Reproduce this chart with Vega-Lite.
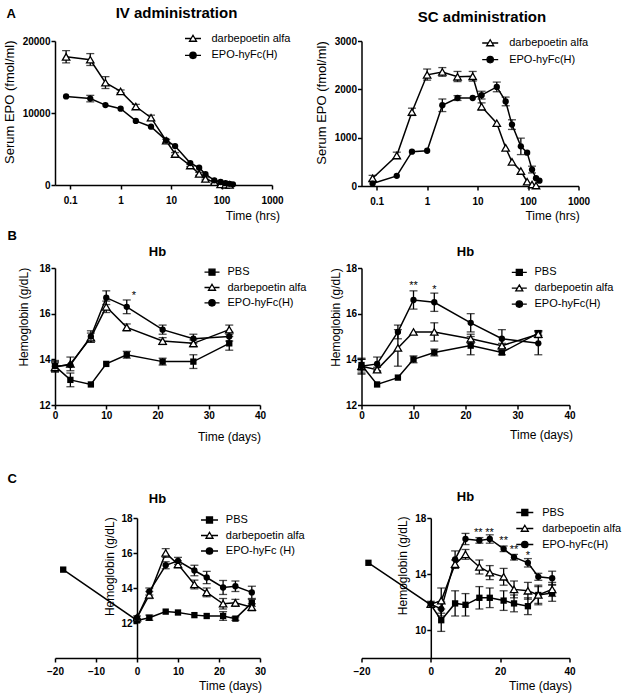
{
"$schema":"https://vega.github.io/schema/vega-lite/v6.json",
"padding":{"left":2,"top":6,"right":5,"bottom":5},
"config":{"view":{"stroke":null},"font":"Liberation Sans",
"axis":{"grid":false,"domainColor":"black","domainWidth":1.5,"tickColor":"black","tickWidth":1.5,"tickSize":4,"labelColor":"black","labelFontWeight":"bold","labelFontSize":10,"labelPadding":1,"labelFlush":false,"labelOverlap":false,"titleColor":"black","titleFontWeight":"normal","titleFontSize":12,"titleBaseline":"middle"},
"axisX":{"titleFontWeight":"normal"},
"legend":{"orient":"none","padding":0,"symbolSize":100,"symbolStrokeColor":"black","symbolStrokeWidth":1.3,"symbolOpacity":1,"labelFontSize":11,"labelColor":"black","labelOffset":11,"rowPadding":5},
"title":{"fontWeight":"bold","color":"black","frame":"group"}},
"columns":2,"bounds":"flush","align":"each","spacing":{"row":0,"column":89.5},
"resolve":{"scale":{"shape":"independent","fill":"independent","stroke":"independent"},"legend":{"shape":"independent","fill":"independent","stroke":"independent"}},
"datasets":{
"al":[{"s":"darbepoetin alfa","t":0.083,"v":17800,"lo":16950,"hi":18650},{"s":"darbepoetin alfa","t":0.25,"v":17400,"lo":16600,"hi":18250},{"s":"darbepoetin alfa","t":0.5,"v":14200,"lo":13400,"hi":15050},{"s":"darbepoetin alfa","t":1,"v":13000,"lo":12800,"hi":13200},{"s":"darbepoetin alfa","t":2,"v":10900,"lo":10600,"hi":11200},{"s":"darbepoetin alfa","t":4,"v":9350,"lo":8950,"hi":9700},{"s":"darbepoetin alfa","t":8,"v":6150,"lo":5950,"hi":6350},{"s":"darbepoetin alfa","t":12,"v":4300,"lo":4100,"hi":4500},{"s":"darbepoetin alfa","t":24,"v":2700,"lo":2550,"hi":2850},{"s":"darbepoetin alfa","t":36,"v":1550,"lo":1350,"hi":1750},{"s":"darbepoetin alfa","t":48,"v":850,"lo":700,"hi":1000},{"s":"darbepoetin alfa","t":72,"v":400,"lo":250,"hi":550},{"s":"darbepoetin alfa","t":96,"v":80},{"s":"darbepoetin alfa","t":120,"v":30},{"s":"darbepoetin alfa","t":144,"v":15},
{"s":"EPO-hyFc(H)","t":0.083,"v":12300},{"s":"EPO-hyFc(H)","t":0.25,"v":12000,"lo":11550,"hi":12450},{"s":"EPO-hyFc(H)","t":0.5,"v":11100},{"s":"EPO-hyFc(H)","t":1,"v":10600},{"s":"EPO-hyFc(H)","t":2,"v":8900},{"s":"EPO-hyFc(H)","t":4,"v":8100},{"s":"EPO-hyFc(H)","t":8,"v":6200},{"s":"EPO-hyFc(H)","t":12,"v":5400},{"s":"EPO-hyFc(H)","t":24,"v":3050},{"s":"EPO-hyFc(H)","t":36,"v":2400},{"s":"EPO-hyFc(H)","t":48,"v":1500},{"s":"EPO-hyFc(H)","t":72,"v":650},{"s":"EPO-hyFc(H)","t":96,"v":420},{"s":"EPO-hyFc(H)","t":120,"v":260},{"s":"EPO-hyFc(H)","t":144,"v":160},{"s":"EPO-hyFc(H)","t":168,"v":90}],
"ar":[{"s":"darbepoetin alfa","t":0.083,"v":160,"lo":100,"hi":220},{"s":"darbepoetin alfa","t":0.25,"v":630,"lo":570,"hi":700},{"s":"darbepoetin alfa","t":0.5,"v":1530,"lo":1460,"hi":1610},{"s":"darbepoetin alfa","t":1,"v":2300,"lo":2190,"hi":2420},{"s":"darbepoetin alfa","t":2,"v":2360,"lo":2270,"hi":2450},{"s":"darbepoetin alfa","t":4,"v":2260,"lo":2160,"hi":2370},{"s":"darbepoetin alfa","t":8,"v":2270,"lo":2170,"hi":2370},{"s":"darbepoetin alfa","t":12,"v":1640,"lo":1570,"hi":1720},{"s":"darbepoetin alfa","t":24,"v":1300},{"s":"darbepoetin alfa","t":36,"v":790},{"s":"darbepoetin alfa","t":48,"v":500},{"s":"darbepoetin alfa","t":72,"v":310},{"s":"darbepoetin alfa","t":96,"v":90},{"s":"darbepoetin alfa","t":120,"v":30},{"s":"darbepoetin alfa","t":144,"v":10},
{"s":"EPO-hyFc(H)","t":0.083,"v":50},{"s":"EPO-hyFc(H)","t":0.25,"v":210},{"s":"EPO-hyFc(H)","t":0.5,"v":710},{"s":"EPO-hyFc(H)","t":1,"v":730},{"s":"EPO-hyFc(H)","t":2,"v":1670,"lo":1540,"hi":1800},{"s":"EPO-hyFc(H)","t":4,"v":1820,"lo":1770,"hi":1870},{"s":"EPO-hyFc(H)","t":8,"v":1820},{"s":"EPO-hyFc(H)","t":12,"v":1880,"lo":1800,"hi":1960},{"s":"EPO-hyFc(H)","t":24,"v":2050,"lo":1950,"hi":2150},{"s":"EPO-hyFc(H)","t":36,"v":1750,"lo":1660,"hi":1840},{"s":"EPO-hyFc(H)","t":48,"v":1270,"lo":1170,"hi":1370},{"s":"EPO-hyFc(H)","t":72,"v":820,"lo":650,"hi":990},{"s":"EPO-hyFc(H)","t":96,"v":690},{"s":"EPO-hyFc(H)","t":120,"v":340,"lo":270,"hi":410},{"s":"EPO-hyFc(H)","t":144,"v":160},{"s":"EPO-hyFc(H)","t":168,"v":110}],
"bl":[{"s":"PBS","t":0,"v":13.7,"lo":13.45,"hi":13.95},{"s":"PBS","t":3,"v":13.1,"lo":12.8,"hi":13.4},{"s":"PBS","t":7,"v":12.9},{"s":"PBS","t":10,"v":13.8},{"s":"PBS","t":14,"v":14.2,"lo":14.05,"hi":14.35},{"s":"PBS","t":21,"v":13.9,"lo":13.75,"hi":14.05},{"s":"PBS","t":27,"v":13.9,"lo":13.6,"hi":14.2},{"s":"PBS","t":34,"v":14.7,"lo":14.4,"hi":15.0},
{"s":"darbepoetin alfa","t":0,"v":13.65,"lo":13.45,"hi":13.85},{"s":"darbepoetin alfa","t":3,"v":13.8,"lo":13.5,"hi":14.1},{"s":"darbepoetin alfa","t":7,"v":14.95,"lo":14.75,"hi":15.15},{"s":"darbepoetin alfa","t":10,"v":16.3,"lo":16.05,"hi":16.55},{"s":"darbepoetin alfa","t":14,"v":15.4,"lo":15.25,"hi":15.55},{"s":"darbepoetin alfa","t":21,"v":14.8,"lo":14.65,"hi":14.95},{"s":"darbepoetin alfa","t":27,"v":14.7,"lo":14.55,"hi":14.85},{"s":"darbepoetin alfa","t":34,"v":15.3,"lo":15.1,"hi":15.5},
{"s":"EPO-hyFc(H)","t":0,"v":13.7,"lo":13.5,"hi":13.9},{"s":"EPO-hyFc(H)","t":3,"v":13.75},{"s":"EPO-hyFc(H)","t":7,"v":15.0,"lo":14.75,"hi":15.25},{"s":"EPO-hyFc(H)","t":10,"v":16.7,"lo":16.4,"hi":17.0},{"s":"EPO-hyFc(H)","t":14,"v":16.3,"lo":16.0,"hi":16.6},{"s":"EPO-hyFc(H)","t":21,"v":15.3,"lo":15.1,"hi":15.5},{"s":"EPO-hyFc(H)","t":27,"v":14.9,"lo":14.7,"hi":15.1},{"s":"EPO-hyFc(H)","t":34,"v":15.0,"lo":14.8,"hi":15.2}],
"bl_sig":[{"t":15.4,"v":16.63,"txt":"*"}],
"br":[{"s":"PBS","t":0,"v":13.75,"lo":13.5,"hi":14.0},{"s":"PBS","t":3,"v":12.9},{"s":"PBS","t":7,"v":13.2},{"s":"PBS","t":10,"v":14.0,"lo":13.85,"hi":14.15},{"s":"PBS","t":14,"v":14.3,"lo":14.15,"hi":14.45},{"s":"PBS","t":21,"v":14.6,"lo":14.2,"hi":15.0},{"s":"PBS","t":27,"v":14.3,"lo":14.2,"hi":14.4},{"s":"PBS","t":34,"v":15.15,"lo":15.05,"hi":15.25},
{"s":"darbepoetin alfa","t":0,"v":13.7,"lo":13.35,"hi":14.05},{"s":"darbepoetin alfa","t":3,"v":13.55,"lo":13.45,"hi":13.65},{"s":"darbepoetin alfa","t":7,"v":14.5,"lo":13.7,"hi":15.3},{"s":"darbepoetin alfa","t":10,"v":15.2},{"s":"darbepoetin alfa","t":14,"v":15.2,"lo":14.8,"hi":15.6},{"s":"darbepoetin alfa","t":21,"v":14.9,"lo":14.7,"hi":15.1},{"s":"darbepoetin alfa","t":27,"v":14.6,"lo":14.5,"hi":14.7},{"s":"darbepoetin alfa","t":34,"v":15.1,"lo":14.95,"hi":15.25},
{"s":"EPO-hyFc(H)","t":0,"v":13.7,"lo":13.4,"hi":14.0},{"s":"EPO-hyFc(H)","t":3,"v":13.8,"lo":13.5,"hi":14.1},{"s":"EPO-hyFc(H)","t":7,"v":15.2,"lo":14.9,"hi":15.5},{"s":"EPO-hyFc(H)","t":10,"v":16.6,"lo":16.2,"hi":17.0},{"s":"EPO-hyFc(H)","t":14,"v":16.5,"lo":16.1,"hi":16.9},{"s":"EPO-hyFc(H)","t":21,"v":15.6,"lo":15.2,"hi":16.0},{"s":"EPO-hyFc(H)","t":27,"v":14.9,"lo":14.5,"hi":15.3},{"s":"EPO-hyFc(H)","t":34,"v":14.7,"lo":14.2,"hi":15.2}],
"br_sig":[{"t":10,"v":17.08,"txt":"**"},{"t":14,"v":16.9,"txt":"*"}],
"cl":[{"s":"PBS","t":-18,"v":15.05},{"s":"PBS","t":0,"v":12.15,"lo":12.05,"hi":12.25},{"s":"PBS","t":3,"v":12.3,"lo":12.15,"hi":12.45},{"s":"PBS","t":7,"v":12.65},{"s":"PBS","t":10,"v":12.6},{"s":"PBS","t":14,"v":12.45},{"s":"PBS","t":17,"v":12.4},{"s":"PBS","t":21,"v":12.4,"lo":12.15,"hi":12.65},{"s":"PBS","t":24,"v":12.25,"lo":12.15,"hi":12.35},{"s":"PBS","t":28,"v":13.15,"lo":12.95,"hi":13.35},
{"s":"darbepoetin alfa","t":0,"v":12.3,"lo":12.2,"hi":12.4},{"s":"darbepoetin alfa","t":3,"v":13.6,"lo":13.4,"hi":13.8},{"s":"darbepoetin alfa","t":7,"v":16.0,"lo":15.75,"hi":16.25},{"s":"darbepoetin alfa","t":10,"v":15.35,"lo":15.15,"hi":15.55},{"s":"darbepoetin alfa","t":14,"v":14.2,"lo":13.95,"hi":14.45},{"s":"darbepoetin alfa","t":17,"v":13.75,"lo":13.5,"hi":14.0},{"s":"darbepoetin alfa","t":21,"v":13.1,"lo":12.8,"hi":13.4},{"s":"darbepoetin alfa","t":24,"v":13.15,"lo":12.95,"hi":13.35},{"s":"darbepoetin alfa","t":28,"v":12.9,"lo":12.7,"hi":13.1},
{"s":"EPO-hyFc (H)","t":0,"v":12.3},{"s":"EPO-hyFc (H)","t":3,"v":13.8,"lo":13.6,"hi":14.0},{"s":"EPO-hyFc (H)","t":7,"v":15.3,"lo":15.1,"hi":15.5},{"s":"EPO-hyFc (H)","t":10,"v":15.55,"lo":15.35,"hi":15.75},{"s":"EPO-hyFc (H)","t":14,"v":15.0,"lo":14.7,"hi":15.3},{"s":"EPO-hyFc (H)","t":17,"v":14.6,"lo":14.25,"hi":14.95},{"s":"EPO-hyFc (H)","t":21,"v":14.03,"lo":13.63,"hi":14.43},{"s":"EPO-hyFc (H)","t":24,"v":14.1,"lo":13.8,"hi":14.4},{"s":"EPO-hyFc (H)","t":28,"v":13.75,"lo":13.4,"hi":14.1}],
"cr":[{"s":"PBS","t":-18,"v":14.8},{"s":"PBS","t":0,"v":11.8,"lo":11.65,"hi":11.95},{"s":"PBS","t":3,"v":10.7,"lo":9.9,"hi":11.5},{"s":"PBS","t":7,"v":11.9,"lo":11.0,"hi":12.8},{"s":"PBS","t":10,"v":11.8,"lo":11.0,"hi":12.6},{"s":"PBS","t":14,"v":12.3,"lo":11.5,"hi":13.1},{"s":"PBS","t":17,"v":12.3,"lo":11.6,"hi":13.0},{"s":"PBS","t":21,"v":12.1,"lo":11.4,"hi":12.8},{"s":"PBS","t":24,"v":11.9,"lo":11.3,"hi":12.5},{"s":"PBS","t":28,"v":11.7,"lo":11.1,"hi":12.3},{"s":"PBS","t":31,"v":12.5,"lo":11.8,"hi":13.2},{"s":"PBS","t":35,"v":12.65,"lo":12.05,"hi":13.25},
{"s":"darbepoetin alfa","t":0,"v":11.85,"lo":11.65,"hi":12.05},{"s":"darbepoetin alfa","t":3,"v":12.1,"lo":11.2,"hi":13.0},{"s":"darbepoetin alfa","t":7,"v":14.7,"lo":14.4,"hi":15.0},{"s":"darbepoetin alfa","t":10,"v":15.4,"lo":15.05,"hi":15.75},{"s":"darbepoetin alfa","t":14,"v":14.5,"lo":14.0,"hi":15.0},{"s":"darbepoetin alfa","t":17,"v":14.1,"lo":13.6,"hi":14.6},{"s":"darbepoetin alfa","t":21,"v":13.8,"lo":13.2,"hi":14.4},{"s":"darbepoetin alfa","t":24,"v":12.9,"lo":12.3,"hi":13.5},{"s":"darbepoetin alfa","t":28,"v":12.8,"lo":12.2,"hi":13.4},{"s":"darbepoetin alfa","t":31,"v":12.5,"lo":11.9,"hi":13.1},{"s":"darbepoetin alfa","t":35,"v":12.9,"lo":12.4,"hi":13.4},
{"s":"EPO-hyFc(H)","t":0,"v":11.85},{"s":"EPO-hyFc(H)","t":3,"v":11.5,"lo":11.0,"hi":12.0},{"s":"EPO-hyFc(H)","t":7,"v":15.05,"lo":14.45,"hi":15.65},{"s":"EPO-hyFc(H)","t":10,"v":16.5,"lo":16.1,"hi":16.9},{"s":"EPO-hyFc(H)","t":14,"v":16.4,"lo":16.2,"hi":16.6},{"s":"EPO-hyFc(H)","t":17,"v":16.5,"lo":16.2,"hi":16.8},{"s":"EPO-hyFc(H)","t":21,"v":15.8,"lo":15.6,"hi":16.0},{"s":"EPO-hyFc(H)","t":24,"v":15.2,"lo":15.0,"hi":15.4},{"s":"EPO-hyFc(H)","t":28,"v":14.8,"lo":14.5,"hi":15.1},{"s":"EPO-hyFc(H)","t":31,"v":13.8,"lo":13.55,"hi":14.05},{"s":"EPO-hyFc(H)","t":35,"v":13.7,"lo":13.2,"hi":14.2}],
"cr_sig":[{"t":13.7,"v":16.7,"txt":"**"},{"t":16.9,"v":16.7,"txt":"**"},{"t":21,"v":16.17,"txt":"**"},{"t":24,"v":15.5,"txt":"**"},{"t":28,"v":15.09,"txt":"*"}]
},
"concat":[
{"width":1,"height":10,"data":{"values":[]},"mark":{"type":"point","opacity":0},"title":{"text":"A","orient":"bottom","anchor":"start","offset":-33.5,"dx":-48.5,"fontSize":13,"baseline":"top"}},
{"width":1,"height":10,"data":{"values":[]},"mark":{"type":"point","opacity":0}},
{"width":217,"height":144,"title":{"text":"IV administration","fontSize":15,"offset":11.5,"dx":13},"data":{"name":"al"},
"layer":[
{"transform":[{"filter":"isValid(datum.lo)"}],"mark":{"type":"errorbar","ticks":true,"size":8,"thickness":1.3,"color":"black"},"encoding":{"x":{"field":"t","type":"quantitative","title":"Time (hrs)"},"y":{"field":"lo","type":"quantitative","title":"Serum EPO (fmol/ml)"},"y2":{"field":"hi"}}},
{"mark":{"type":"line","color":"black","strokeWidth":1.5},"encoding":{"x":{"field":"t","type":"quantitative","title":"Time (hrs)","scale":{"type":"log","domain":[0.05,1000],"nice":false},"axis":{"values":[0.1,1,10,100,1000],"format":"~g","titleX":224.5,"titleY":30.7,"titleAlign":"right","titleFontWeight":"normal","labelPadding":6}},"y":{"field":"v","type":"quantitative","title":"Serum EPO (fmol/ml)","scale":{"domain":[0,20000],"nice":false},"axis":{"values":[0,5000,10000,15000,20000],"format":"d","titleFontSize":13,"titleX":-46,"titleY":60.7}},"detail":{"field":"s"}}},
{"transform":[{"filter":"datum.s=='darbepoetin alfa'"}],"mark":{"type":"point","shape":"triangle-up","filled":true,"fill":"white","stroke":"black","strokeWidth":1.3,"size":55,"opacity":1},"encoding":{"x":{"field":"t","type":"quantitative","title":"Time (hrs)"},"y":{"field":"v","type":"quantitative","title":"Serum EPO (fmol/ml)"}}},
{"transform":[{"filter":"datum.s!='darbepoetin alfa' && datum.s!='PBS'"}],"mark":{"type":"point","shape":"circle","filled":true,"color":"black","size":40,"opacity":1},"encoding":{"x":{"field":"t","type":"quantitative","title":"Time (hrs)"},"y":{"field":"v","type":"quantitative","title":"Serum EPO (fmol/ml)"}}},
{"transform":[{"filter":"false"}],"mark":{"type":"point","opacity":1},"encoding":{"shape":{"field":"s","type":"nominal","title":null,"scale":{"domain":["darbepoetin alfa","EPO-hyFc(H)"],"range":["M-1.6,0L-0.38,0M0.38,0L1.6,0M0,-0.65L0.7,0.55L-0.7,0.55Z","M-1.6,0L1.6,0M-0.64,0A0.64,0.64,0,1,1,0.64,0A0.64,0.64,0,1,1,-0.64,0Z"]},"legend":{"legendX":132,"legendY":-8.5,"rowPadding":4.8,"labelOffset":12.5}},"fill":{"field":"s","type":"nominal","title":null,"scale":{"domain":["darbepoetin alfa","EPO-hyFc(H)"],"range":["white","black"]},"legend":{"legendX":132,"legendY":-8.5,"rowPadding":4.8,"labelOffset":12.5}},"stroke":{"field":"s","type":"nominal","title":null,"scale":{"domain":["darbepoetin alfa","EPO-hyFc(H)"],"range":["black","black"]},"legend":{"legendX":132,"legendY":-8.5,"rowPadding":4.8,"labelOffset":12.5}}}}
]},
{"width":217,"height":145,"title":{"text":"SC administration","fontSize":15,"offset":11.5,"dx":12},"data":{"name":"ar"},
"layer":[
{"transform":[{"filter":"isValid(datum.lo)"}],"mark":{"type":"errorbar","ticks":true,"size":8,"thickness":1.3,"color":"black"},"encoding":{"x":{"field":"t","type":"quantitative","title":"Time (hrs)"},"y":{"field":"lo","type":"quantitative","title":"Serum EPO (fmol/ml)"},"y2":{"field":"hi"}}},
{"mark":{"type":"line","color":"black","strokeWidth":1.5},"encoding":{"x":{"field":"t","type":"quantitative","title":"Time (hrs)","scale":{"type":"log","domain":[0.05,1000],"nice":false},"axis":{"values":[0.1,1,10,100,1000],"format":"~g","titleX":217.7,"titleY":29,"titleAlign":"right","titleFontWeight":"normal","labelPadding":6}},"y":{"field":"v","type":"quantitative","title":"Serum EPO (fmol/ml)","scale":{"domain":[0,3000],"nice":false},"axis":{"values":[0,1000,2000,3000],"format":"d","titleFontSize":13,"titleX":-40.3,"titleY":61.5}},"detail":{"field":"s"}}},
{"transform":[{"filter":"datum.s=='darbepoetin alfa'"}],"mark":{"type":"point","shape":"triangle-up","filled":true,"fill":"white","stroke":"black","strokeWidth":1.3,"size":55,"opacity":1},"encoding":{"x":{"field":"t","type":"quantitative","title":"Time (hrs)"},"y":{"field":"v","type":"quantitative","title":"Serum EPO (fmol/ml)"}}},
{"transform":[{"filter":"datum.s!='darbepoetin alfa' && datum.s!='PBS'"}],"mark":{"type":"point","shape":"circle","filled":true,"color":"black","size":40,"opacity":1},"encoding":{"x":{"field":"t","type":"quantitative","title":"Time (hrs)"},"y":{"field":"v","type":"quantitative","title":"Serum EPO (fmol/ml)"}}},
{"transform":[{"filter":"false"}],"mark":{"type":"point","opacity":1},"encoding":{"shape":{"field":"s","type":"nominal","title":null,"scale":{"domain":["darbepoetin alfa","EPO-hyFc(H)"],"range":["M-1.6,0L-0.38,0M0.38,0L1.6,0M0,-0.65L0.7,0.55L-0.7,0.55Z","M-1.6,0L1.6,0M-0.64,0A0.64,0.64,0,1,1,0.64,0A0.64,0.64,0,1,1,-0.64,0Z"]},"legend":{"legendX":122.7,"legendY":-4,"rowPadding":4.6,"labelOffset":13}},"fill":{"field":"s","type":"nominal","title":null,"scale":{"domain":["darbepoetin alfa","EPO-hyFc(H)"],"range":["white","black"]},"legend":{"legendX":122.7,"legendY":-4,"rowPadding":4.6,"labelOffset":13}},"stroke":{"field":"s","type":"nominal","title":null,"scale":{"domain":["darbepoetin alfa","EPO-hyFc(H)"],"range":["black","black"]},"legend":{"legendX":122.7,"legendY":-4,"rowPadding":4.6,"labelOffset":13}}}}
]},
{"width":1,"height":81.2,"data":{"values":[]},"mark":{"type":"point","opacity":0},"title":{"text":"B","orient":"bottom","anchor":"start","offset":-37,"dx":-47.5,"fontSize":13,"baseline":"top"}},
{"width":1,"height":81.2,"data":{"values":[]},"mark":{"type":"point","opacity":0}},
{"width":205,"height":137,"title":{"text":"Hb","fontSize":13,"offset":4},"data":{"name":"bl"},
"layer":[
{"transform":[{"filter":"isValid(datum.lo)"}],"mark":{"type":"errorbar","ticks":true,"size":8,"thickness":1.3,"color":"black"},"encoding":{"x":{"field":"t","type":"quantitative","title":"Time (days)"},"y":{"field":"lo","type":"quantitative","title":"Hemoglobin (g/dL)"},"y2":{"field":"hi"}}},
{"mark":{"type":"line","color":"black","strokeWidth":1.5},"encoding":{"x":{"field":"t","type":"quantitative","title":"Time (days)","scale":{"domain":[0,40],"nice":false},"axis":{"values":[0,10,20,30,40],"titleX":205.5,"titleY":31,"titleAlign":"right","titleFontWeight":"normal","labelPadding":1.5}},"y":{"field":"v","type":"quantitative","title":"Hemoglobin (g/dL)","scale":{"domain":[12,18],"nice":false,"zero":false},"axis":{"values":[12,14,16,18],"titleX":-31.3,"titleY":48.7}},"detail":{"field":"s"}}},
{"transform":[{"filter":"datum.s=='PBS'"}],"mark":{"type":"point","shape":"square","filled":true,"color":"black","size":40,"opacity":1},"encoding":{"x":{"field":"t","type":"quantitative","title":"Time (days)"},"y":{"field":"v","type":"quantitative","title":"Hemoglobin (g/dL)"}}},
{"transform":[{"filter":"datum.s=='darbepoetin alfa'"}],"mark":{"type":"point","shape":"triangle-up","filled":true,"fill":"white","stroke":"black","strokeWidth":1.3,"size":55,"opacity":1},"encoding":{"x":{"field":"t","type":"quantitative","title":"Time (days)"},"y":{"field":"v","type":"quantitative","title":"Hemoglobin (g/dL)"}}},
{"transform":[{"filter":"datum.s!='darbepoetin alfa' && datum.s!='PBS'"}],"mark":{"type":"point","shape":"circle","filled":true,"color":"black","size":40,"opacity":1},"encoding":{"x":{"field":"t","type":"quantitative","title":"Time (days)"},"y":{"field":"v","type":"quantitative","title":"Hemoglobin (g/dL)"}}},
{"transform":[{"filter":"false"}],"mark":{"type":"point","opacity":1},"encoding":{"shape":{"field":"s","type":"nominal","title":null,"scale":{"domain":["PBS","darbepoetin alfa","EPO-hyFc(H)"],"range":["M-1.5,0L1.5,0M-0.6,-0.6L0.6,-0.6L0.6,0.6L-0.6,0.6Z","M-1.5,0L-0.38,0M0.38,0L1.5,0M0,-0.65L0.7,0.55L-0.7,0.55Z","M-1.5,0L1.5,0M-0.64,0A0.64,0.64,0,1,1,0.64,0A0.64,0.64,0,1,1,-0.64,0Z"]},"legend":{"legendX":151,"legendY":-1.8,"rowPadding":3.3,"labelOffset":9.5}},"fill":{"field":"s","type":"nominal","title":null,"scale":{"domain":["PBS","darbepoetin alfa","EPO-hyFc(H)"],"range":["black","white","black"]},"legend":{"legendX":151,"legendY":-1.8,"rowPadding":3.3,"labelOffset":9.5}},"stroke":{"field":"s","type":"nominal","title":null,"scale":{"domain":["PBS","darbepoetin alfa","EPO-hyFc(H)"],"range":["black","black","black"]},"legend":{"legendX":151,"legendY":-1.8,"rowPadding":3.3,"labelOffset":9.5}}}},
{"data":{"name":"bl_sig"},"mark":{"type":"text","fontSize":11,"fill":"black","baseline":"alphabetic"},"encoding":{"x":{"field":"t","type":"quantitative"},"y":{"field":"v","type":"quantitative"},"text":{"field":"txt"}}}
]},
{"width":208,"height":137,"title":{"text":"Hb","fontSize":13,"offset":4},"data":{"name":"br"},
"layer":[
{"transform":[{"filter":"isValid(datum.lo)"}],"mark":{"type":"errorbar","ticks":true,"size":8,"thickness":1.3,"color":"black"},"encoding":{"x":{"field":"t","type":"quantitative","title":"Time (days)"},"y":{"field":"lo","type":"quantitative","title":"Hemoglobin (g/dL)"},"y2":{"field":"hi"}}},
{"mark":{"type":"line","color":"black","strokeWidth":1.5},"encoding":{"x":{"field":"t","type":"quantitative","title":"Time (days)","scale":{"domain":[0,40],"nice":false},"axis":{"values":[0,10,20,30,40],"titleX":211,"titleY":29.5,"titleAlign":"right","titleFontWeight":"normal","labelPadding":1.5}},"y":{"field":"v","type":"quantitative","title":"Hemoglobin (g/dL)","scale":{"domain":[12,18],"nice":false,"zero":false},"axis":{"values":[12,14,16,18],"titleX":-25.7,"titleY":49}},"detail":{"field":"s"}}},
{"transform":[{"filter":"datum.s=='PBS'"}],"mark":{"type":"point","shape":"square","filled":true,"color":"black","size":40,"opacity":1},"encoding":{"x":{"field":"t","type":"quantitative","title":"Time (days)"},"y":{"field":"v","type":"quantitative","title":"Hemoglobin (g/dL)"}}},
{"transform":[{"filter":"datum.s=='darbepoetin alfa'"}],"mark":{"type":"point","shape":"triangle-up","filled":true,"fill":"white","stroke":"black","strokeWidth":1.3,"size":55,"opacity":1},"encoding":{"x":{"field":"t","type":"quantitative","title":"Time (days)"},"y":{"field":"v","type":"quantitative","title":"Hemoglobin (g/dL)"}}},
{"transform":[{"filter":"datum.s!='darbepoetin alfa' && datum.s!='PBS'"}],"mark":{"type":"point","shape":"circle","filled":true,"color":"black","size":40,"opacity":1},"encoding":{"x":{"field":"t","type":"quantitative","title":"Time (days)"},"y":{"field":"v","type":"quantitative","title":"Hemoglobin (g/dL)"}}},
{"transform":[{"filter":"false"}],"mark":{"type":"point","opacity":1},"encoding":{"shape":{"field":"s","type":"nominal","title":null,"scale":{"domain":["PBS","darbepoetin alfa","EPO-hyFc(H)"],"range":["M-1.5,0L1.5,0M-0.6,-0.6L0.6,-0.6L0.6,0.6L-0.6,0.6Z","M-1.5,0L-0.38,0M0.38,0L1.5,0M0,-0.65L0.7,0.55L-0.7,0.55Z","M-1.5,0L1.5,0M-0.64,0A0.64,0.64,0,1,1,0.64,0A0.64,0.64,0,1,1,-0.64,0Z"]},"legend":{"legendX":151.8,"legendY":-1.7,"rowPadding":3.9,"labelOffset":9.2}},"fill":{"field":"s","type":"nominal","title":null,"scale":{"domain":["PBS","darbepoetin alfa","EPO-hyFc(H)"],"range":["black","white","black"]},"legend":{"legendX":151.8,"legendY":-1.7,"rowPadding":3.9,"labelOffset":9.2}},"stroke":{"field":"s","type":"nominal","title":null,"scale":{"domain":["PBS","darbepoetin alfa","EPO-hyFc(H)"],"range":["black","black","black"]},"legend":{"legendX":151.8,"legendY":-1.7,"rowPadding":3.9,"labelOffset":9.2}}}},
{"data":{"name":"br_sig"},"mark":{"type":"text","fontSize":11,"fill":"black","baseline":"alphabetic"},"encoding":{"x":{"field":"t","type":"quantitative"},"y":{"field":"v","type":"quantitative"},"text":{"field":"txt"}}}
]},
{"width":1,"height":113,"data":{"values":[]},"mark":{"type":"point","opacity":0},"title":{"text":"C","orient":"bottom","anchor":"start","offset":-45.5,"dx":-47.5,"fontSize":13,"baseline":"top"}},
{"width":1,"height":113,"data":{"values":[]},"mark":{"type":"point","opacity":0}},
{"width":205,"height":140,"title":{"text":"Hb","fontSize":13,"offset":7.5},"data":{"name":"cl"},
"layer":[
{"transform":[{"filter":"isValid(datum.lo)"}],"mark":{"type":"errorbar","ticks":true,"size":8,"thickness":1.3,"color":"black"},"encoding":{"x":{"field":"t","type":"quantitative","title":"Time (days)"},"y":{"field":"lo","type":"quantitative","title":"Hemoglobin (g/dL)"},"y2":{"field":"hi"}}},
{"mark":{"type":"line","color":"black","strokeWidth":1.5},"encoding":{"x":{"field":"t","type":"quantitative","title":"Time (days)","scale":{"domain":[-20,30],"nice":false},"axis":{"values":[-20,-10,0,10,20,30],"titleX":206.5,"titleY":27,"titleAlign":"right","titleFontWeight":"normal","labelPadding":4}},"y":{"field":"v","type":"quantitative","title":"Hemoglobin (g/dL)","scale":{"domain":[10,18],"nice":false,"zero":false},"axis":{"values":[12,14,16,18],"offset":-82,"titleX":-28,"titleY":48.2}},"detail":{"field":"s"}}},
{"transform":[{"filter":"datum.s=='PBS'"}],"mark":{"type":"point","shape":"square","filled":true,"color":"black","size":40,"opacity":1},"encoding":{"x":{"field":"t","type":"quantitative","title":"Time (days)"},"y":{"field":"v","type":"quantitative","title":"Hemoglobin (g/dL)"}}},
{"transform":[{"filter":"datum.s=='darbepoetin alfa'"}],"mark":{"type":"point","shape":"triangle-up","filled":true,"fill":"white","stroke":"black","strokeWidth":1.3,"size":55,"opacity":1},"encoding":{"x":{"field":"t","type":"quantitative","title":"Time (days)"},"y":{"field":"v","type":"quantitative","title":"Hemoglobin (g/dL)"}}},
{"transform":[{"filter":"datum.s!='darbepoetin alfa' && datum.s!='PBS'"}],"mark":{"type":"point","shape":"circle","filled":true,"color":"black","size":40,"opacity":1},"encoding":{"x":{"field":"t","type":"quantitative","title":"Time (days)"},"y":{"field":"v","type":"quantitative","title":"Hemoglobin (g/dL)"}}},
{"transform":[{"filter":"false"}],"mark":{"type":"point","opacity":1},"encoding":{"shape":{"field":"s","type":"nominal","title":null,"scale":{"domain":["PBS","darbepoetin alfa","EPO-hyFc (H)"],"range":["M-1.7,0L1.7,0M-0.6,-0.6L0.6,-0.6L0.6,0.6L-0.6,0.6Z","M-1.7,0L-0.38,0M0.38,0L1.7,0M0,-0.65L0.7,0.55L-0.7,0.55Z","M-1.7,0L1.7,0M-0.64,0A0.64,0.64,0,1,1,0.64,0A0.64,0.64,0,1,1,-0.64,0Z"]},"legend":{"legendX":148.5,"legendY":-4,"rowPadding":3.5,"labelOffset":10.3}},"fill":{"field":"s","type":"nominal","title":null,"scale":{"domain":["PBS","darbepoetin alfa","EPO-hyFc (H)"],"range":["black","white","black"]},"legend":{"legendX":148.5,"legendY":-4,"rowPadding":3.5,"labelOffset":10.3}},"stroke":{"field":"s","type":"nominal","title":null,"scale":{"domain":["PBS","darbepoetin alfa","EPO-hyFc (H)"],"range":["black","black","black"]},"legend":{"legendX":148.5,"legendY":-4,"rowPadding":3.5,"labelOffset":10.3}}}}
]},
{"width":208,"height":140,"title":{"text":"Hb","fontSize":13,"offset":3},"data":{"name":"cr"},
"layer":[
{"transform":[{"filter":"isValid(datum.lo)"}],"mark":{"type":"errorbar","ticks":true,"size":8,"thickness":1.3,"color":"black"},"encoding":{"x":{"field":"t","type":"quantitative","title":"Time (days)"},"y":{"field":"lo","type":"quantitative","title":"Hemoglobin (g/dL)"},"y2":{"field":"hi"}}},
{"mark":{"type":"line","color":"black","strokeWidth":1.5},"encoding":{"x":{"field":"t","type":"quantitative","title":"Time (days)","scale":{"domain":[-20,40],"nice":false},"axis":{"values":[-20,0,20,40],"titleX":210,"titleY":27,"titleAlign":"right","titleFontWeight":"normal","labelPadding":4.5}},"y":{"field":"v","type":"quantitative","title":"Hemoglobin (g/dL)","scale":{"domain":[8,18],"nice":false,"zero":false},"axis":{"values":[10,12,14,16,18],"offset":-69.3,"titleX":-28.8,"titleY":47.3}},"detail":{"field":"s"}}},
{"transform":[{"filter":"datum.s=='PBS'"}],"mark":{"type":"point","shape":"square","filled":true,"color":"black","size":40,"opacity":1},"encoding":{"x":{"field":"t","type":"quantitative","title":"Time (days)"},"y":{"field":"v","type":"quantitative","title":"Hemoglobin (g/dL)"}}},
{"transform":[{"filter":"datum.s=='darbepoetin alfa'"}],"mark":{"type":"point","shape":"triangle-up","filled":true,"fill":"white","stroke":"black","strokeWidth":1.3,"size":55,"opacity":1},"encoding":{"x":{"field":"t","type":"quantitative","title":"Time (days)"},"y":{"field":"v","type":"quantitative","title":"Hemoglobin (g/dL)"}}},
{"transform":[{"filter":"datum.s!='darbepoetin alfa' && datum.s!='PBS'"}],"mark":{"type":"point","shape":"circle","filled":true,"color":"black","size":40,"opacity":1},"encoding":{"x":{"field":"t","type":"quantitative","title":"Time (days)"},"y":{"field":"v","type":"quantitative","title":"Hemoglobin (g/dL)"}}},
{"transform":[{"filter":"false"}],"mark":{"type":"point","opacity":1},"encoding":{"shape":{"field":"s","type":"nominal","title":null,"scale":{"domain":["PBS","darbepoetin alfa","EPO-hyFc(H)"],"range":["M-1.7,0L1.7,0M-0.6,-0.6L0.6,-0.6L0.6,0.6L-0.6,0.6Z","M-1.7,0L-0.38,0M0.38,0L1.7,0M0,-0.65L0.7,0.55L-0.7,0.55Z","M-1.7,0L1.7,0M-0.64,0A0.64,0.64,0,1,1,0.64,0A0.64,0.64,0,1,1,-0.64,0Z"]},"legend":{"legendX":157.3,"legendY":-11.5,"rowPadding":4,"labelOffset":11.4}},"fill":{"field":"s","type":"nominal","title":null,"scale":{"domain":["PBS","darbepoetin alfa","EPO-hyFc(H)"],"range":["black","white","black"]},"legend":{"legendX":157.3,"legendY":-11.5,"rowPadding":4,"labelOffset":11.4}},"stroke":{"field":"s","type":"nominal","title":null,"scale":{"domain":["PBS","darbepoetin alfa","EPO-hyFc(H)"],"range":["black","black","black"]},"legend":{"legendX":157.3,"legendY":-11.5,"rowPadding":4,"labelOffset":11.4}}}},
{"data":{"name":"cr_sig"},"mark":{"type":"text","fontSize":11,"fill":"black","baseline":"alphabetic"},"encoding":{"x":{"field":"t","type":"quantitative"},"y":{"field":"v","type":"quantitative"},"text":{"field":"txt"}}}
]}
]
}
